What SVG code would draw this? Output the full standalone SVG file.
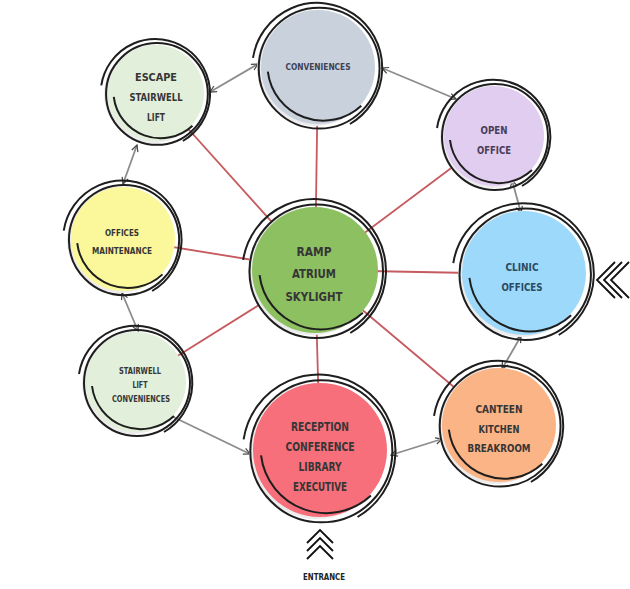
<svg xmlns="http://www.w3.org/2000/svg" xmlns:xlink="http://www.w3.org/1999/xlink" width="630" height="589" viewBox="0 0 630 589">
<style>
text{font-family:"Liberation Sans Narrow","DejaVu Sans Condensed","Liberation Sans",sans-serif;font-weight:bold;text-anchor:middle;fill:#363636}
.red{stroke:#c65a5e;stroke-width:1.8;fill:none}
.gray{stroke:#8c8c8c;stroke-width:1.8;fill:none;marker-start:url(#ah);marker-end:url(#ah)}
.sh{fill:#ececec}
.ring{fill:none;stroke:#1e1e1e}
.chev{fill:none;stroke:#111;stroke-width:1.8}
</style>
<defs>
<marker id="ah" viewBox="0 0 10 10" refX="9" refY="5" markerWidth="8" markerHeight="8" orient="auto-start-reverse" markerUnits="userSpaceOnUse">
<path d="M1,1 L9,5 L1,9" fill="none" stroke="#444" stroke-width="1.5"/>
</marker>
<g id="ring" class="ring">
<circle cx="1" cy="1" r="53"/>
<path d="M-57,-8 A57,57 0 1 1 28,50"/>
<path d="M-44,4 A49,49 0 0 0 38,34"/>
</g>
</defs>
<rect width="630" height="589" fill="#fff"/>
<g id="connectors">
<line class="red" x1="315" y1="270" x2="318" y2="67"/>
<line class="red" x1="315" y1="270" x2="156" y2="93"/>
<line class="red" x1="315" y1="270" x2="123" y2="239"/>
<line class="red" x1="315" y1="270" x2="136" y2="382"/>
<line class="red" x1="315" y1="270" x2="320" y2="450"/>
<line class="red" x1="315" y1="270" x2="499" y2="425"/>
<line class="red" x1="315" y1="270" x2="524" y2="274"/>
<line class="red" x1="315" y1="270" x2="494" y2="136"/>
<line class="gray" x1="210" y1="92" x2="258" y2="64"/>
<line class="gray" x1="382" y1="68" x2="456" y2="99"/>
<line class="gray" x1="512" y1="180" x2="521" y2="213"/>
<line class="gray" x1="521" y1="336" x2="502" y2="369"/>
<line class="gray" x1="442" y1="439" x2="391" y2="455"/>
<line class="gray" x1="250" y1="454" x2="163" y2="412"/>
<line class="gray" x1="138" y1="331" x2="122" y2="293"/>
<line class="gray" x1="123" y1="184" x2="137" y2="145"/>
</g>
<g id="conveniences">
<circle class="sh" cx="315" cy="68" r="58"/>
<circle cx="318" cy="67" r="57" fill="#c9d1dd"/>
<use xlink:href="#ring" transform="translate(318 67) scale(1.14)" stroke-width="1.75"/>
<text x="318" y="70" font-size="8.5" textLength="65" lengthAdjust="spacingAndGlyphs" style="fill:#3c4254">CONVENIENCES</text>
</g>
<g id="escape">
<circle class="sh" cx="153" cy="94" r="49"/>
<circle cx="156" cy="93" r="48" fill="#e2efda"/>
<use xlink:href="#ring" transform="translate(156 93) scale(0.96)" stroke-width="2.1"/>
<text x="156" y="81" font-size="11" textLength="42" lengthAdjust="spacingAndGlyphs">ESCAPE</text>
<text x="156" y="101" font-size="11" textLength="53" lengthAdjust="spacingAndGlyphs">STAIRWELL</text>
<text x="156" y="121" font-size="11" textLength="18" lengthAdjust="spacingAndGlyphs">LIFT</text>
</g>
<g id="offices-maintenance">
<circle class="sh" cx="120" cy="240" r="53"/>
<circle cx="123" cy="239" r="52" fill="#fbf89b"/>
<use xlink:href="#ring" transform="translate(123 239) scale(1.04)" stroke-width="1.9"/>
<text x="122" y="236" font-size="8.5" textLength="34" lengthAdjust="spacingAndGlyphs">OFFICES</text>
<text x="122" y="254" font-size="8.5" textLength="60" lengthAdjust="spacingAndGlyphs">MAINTENANCE</text>
</g>
<g id="stairwell-lift-conveniences">
<circle class="sh" cx="133" cy="383" r="51"/>
<circle cx="136" cy="382" r="50" fill="#e2efda"/>
<use xlink:href="#ring" transform="translate(136 382) scale(1.0)" stroke-width="2"/>
<text x="140" y="374" font-size="8" textLength="42" lengthAdjust="spacingAndGlyphs">STAIRWELL</text>
<text x="140" y="388" font-size="8" textLength="15" lengthAdjust="spacingAndGlyphs">LIFT</text>
<text x="141" y="402" font-size="8" textLength="58" lengthAdjust="spacingAndGlyphs">CONVENIENCES</text>
</g>
<g id="ramp-atrium-skylight">
<circle class="sh" cx="312" cy="271" r="64"/>
<circle cx="315" cy="270" r="63" fill="#8dc061"/>
<use xlink:href="#ring" transform="translate(315 270) scale(1.26)" stroke-width="1.6"/>
<text x="314" y="256" font-size="13" textLength="35" lengthAdjust="spacingAndGlyphs">RAMP</text>
<text x="314" y="278" font-size="13" textLength="44" lengthAdjust="spacingAndGlyphs">ATRIUM</text>
<text x="314" y="301" font-size="13" textLength="57" lengthAdjust="spacingAndGlyphs">SKYLIGHT</text>
</g>
<g id="reception">
<circle class="sh" cx="317" cy="451" r="68"/>
<circle cx="320" cy="450" r="67" fill="#f66f7a"/>
<use xlink:href="#ring" transform="translate(320 450) scale(1.34)" stroke-width="1.5"/>
<text x="320" y="431" font-size="11.5" textLength="58" lengthAdjust="spacingAndGlyphs">RECEPTION</text>
<text x="320" y="451" font-size="11.5" textLength="69" lengthAdjust="spacingAndGlyphs">CONFERENCE</text>
<text x="320" y="471" font-size="11.5" textLength="43" lengthAdjust="spacingAndGlyphs">LIBRARY</text>
<text x="320" y="491" font-size="11.5" textLength="54" lengthAdjust="spacingAndGlyphs">EXECUTIVE</text>
</g>
<g id="open-office">
<circle class="sh" cx="491" cy="137" r="51"/>
<circle cx="494" cy="136" r="50" fill="#e0cdf0"/>
<use xlink:href="#ring" transform="translate(494 136) scale(1.0)" stroke-width="2"/>
<text x="494" y="134" font-size="11" textLength="27" lengthAdjust="spacingAndGlyphs" style="fill:#4a3d58">OPEN</text>
<text x="494" y="154" font-size="11" textLength="34" lengthAdjust="spacingAndGlyphs" style="fill:#4a3d58">OFFICE</text>
</g>
<g id="clinic-offices">
<circle class="sh" cx="521" cy="274" r="63"/>
<circle cx="524" cy="273" r="62" fill="#9dd9fb"/>
<use xlink:href="#ring" transform="translate(524 273) scale(1.24)" stroke-width="1.6"/>
<text x="522" y="271" font-size="11" textLength="33" lengthAdjust="spacingAndGlyphs" style="fill:#2b4a62">CLINIC</text>
<text x="522" y="291" font-size="11" textLength="41" lengthAdjust="spacingAndGlyphs" style="fill:#2b4a62">OFFICES</text>
</g>
<g id="canteen">
<circle class="sh" cx="496" cy="426" r="58"/>
<circle cx="499" cy="425" r="57" fill="#fbb486"/>
<use xlink:href="#ring" transform="translate(499 425) scale(1.14)" stroke-width="1.75"/>
<text x="499" y="413" font-size="11" textLength="47" lengthAdjust="spacingAndGlyphs">CANTEEN</text>
<text x="499" y="433" font-size="11" textLength="41" lengthAdjust="spacingAndGlyphs">KITCHEN</text>
<text x="499" y="452" font-size="11" textLength="63" lengthAdjust="spacingAndGlyphs">BREAKROOM</text>
</g>
<g id="side-entry">
<path class="chev" d="M615,262 L597,280 L615,298"/>
<path class="chev" d="M622,262 L604,280 L622,298"/>
<path class="chev" d="M629,262 L611,280 L629,298"/>
</g>
<g id="entrance">
<path class="chev" d="M307,543 L320,530 L333,543"/>
<path class="chev" d="M307,551 L320,538 L333,551"/>
<path class="chev" d="M307,559 L320,546 L333,559"/>
<text x="324" y="580" font-size="8.5" textLength="42" lengthAdjust="spacingAndGlyphs" style="fill:#222">ENTRANCE</text>
</g>
</svg>
